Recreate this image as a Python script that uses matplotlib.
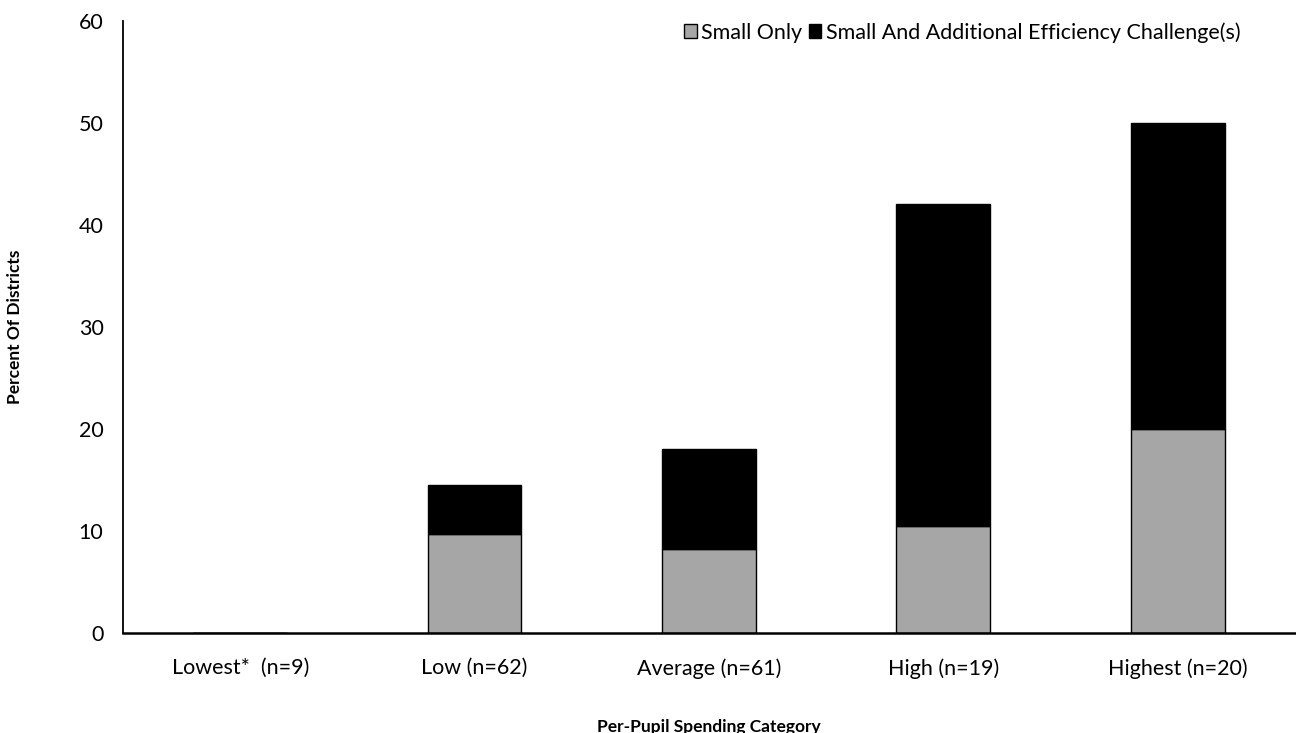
import matplotlib.pyplot as plt

categories = ["Lowest*  (n=9)", "Low (n=62)", "Average (n=61)", "High (n=19)", "Highest (n=20)"]
small_only = [0.0, 9.7, 8.2, 10.5, 20.0]
small_and_additional = [0.0, 4.8, 9.8, 31.6, 30.0]
y_ticks = [0, 10, 20, 30, 40, 50, 60]

plt.rcParams['font.family'] = ['Lato', 'DejaVu Sans']

fig = plt.figure(figsize=(12.96, 7.33), dpi=100)
ax = fig.add_axes([0.0949, 0.1364, 0.9043, 0.835])

x = range(len(categories))
ax.bar(x, small_only, width=0.4, color='#A6A6A6', edgecolor='black', linewidth=1,
       label='Small Only')
ax.bar(x, small_and_additional, width=0.4, bottom=small_only, color='black',
       edgecolor='black', linewidth=1, label='Small And Additional Efficiency Challenge(s)')

ax.set_xlim(-0.5, 4.5)
ax.set_ylim(0, 60)
ax.set_yticks(y_ticks)
ax.set_xticks(list(x))
ax.set_xticklabels(categories)
ax.tick_params(length=0, labelsize=15.5)
ax.tick_params(axis='x', pad=18)
ax.tick_params(axis='y', pad=14)
for s in ['top', 'right']:
    ax.spines[s].set_visible(False)
ax.spines['left'].set_linewidth(1.3)
ax.spines['bottom'].set_linewidth(1.8)

ax.set_xlabel("Per-Pupil Spending Category", fontsize=12.5, fontweight='bold', labelpad=29)
ax.set_ylabel("Percent Of Districts", fontsize=12.5, fontweight='bold', labelpad=40)

ax.legend(loc='upper right', bbox_to_anchor=(0.97, 1.03), ncol=2, frameon=False,
          fontsize=15.5, handlelength=0.6, handleheight=0.6, handletextpad=0.2,
          columnspacing=0.3)

fig.savefig("out.png", dpi=100)
